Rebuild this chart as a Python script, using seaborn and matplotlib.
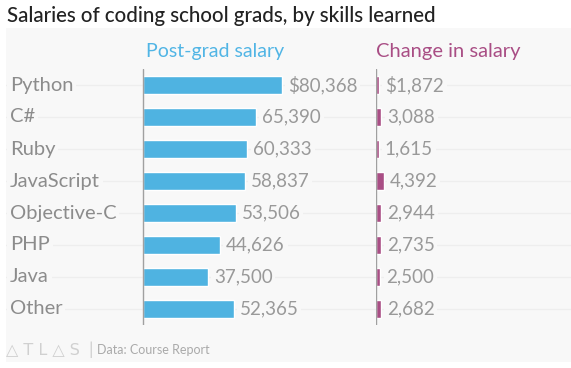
import matplotlib
matplotlib.use("Agg")
import matplotlib.pyplot as plt
import seaborn as sns
import pandas as pd
from matplotlib.patches import Rectangle

# data
langs = ["Python", "C#", "Ruby", "JavaScript", "Objective-C", "PHP", "Java", "Other"]
salary = [80368, 65390, 60333, 58837, 53506, 44626, 37500, 52365]
change = [1872, 3088, 1615, 4392, 2944, 2735, 2500, 2682]

df = pd.DataFrame({"lang": langs, "salary": salary, "change": change})

sns.set_theme(style="white")
plt.rcParams["font.family"] = ["Lato", "DejaVu Sans"]

BG = "#f8f8f8"
BLUE = "#4fb3e1"
PINK = "#a94e85"
GRID = "#eeeeee"
TXT = "#999999"

W, H = 571, 368
fig = plt.figure(figsize=(W / 100, H / 100), dpi=100)
fig.patch.set_facecolor("white")

# light panel behind the chart
fig.add_artist(Rectangle((6 / W, 1 - 362 / H), (W - 6) / W, (362 - 28) / H,
                         transform=fig.transFigure, facecolor=BG, edgecolor="none", zorder=0))

# pixel scale shared by both panels
px = 139 / 80368
top, bot = 69, 325
ax1 = fig.add_axes([6 / W, 1 - bot / H, (376 - 6) / W, (bot - top) / H])
ax2 = fig.add_axes([376 / W, 1 - bot / H, (W - 376) / W, (bot - top) / H])

sns.barplot(data=df, x="salary", y="lang", ax=ax1, color=BLUE, width=0.55,
            saturation=1, zorder=3)
sns.barplot(data=df, x="change", y="lang", ax=ax2, color=PINK, width=0.55,
            saturation=1, zorder=3)

ax1.set_xlim(-(143 - 6) / px, (376 - 143) / px)
ax2.set_xlim(0, (W - 376) / px)

for ax in (ax1, ax2):
    ax.set_facecolor("none")
    ax.set_ylim(len(langs) - 0.5, -0.5)
    ax.set_xlabel("")
    ax.set_ylabel("")
    ax.set_xticks([])
    ax.set_yticks([])
    for s in ax.spines.values():
        s.set_visible(False)
    for i in range(len(langs)):
        ax.axhline(i, color=GRID, lw=1, zorder=1)
    ax.axvline(0, color="#a0a0a0", lw=1, zorder=4)

box = dict(facecolor=BG, edgecolor="none", pad=2)
for i, name in enumerate(langs):
    ax1.text(-(143 - 10) / px, i, name, va="center", ha="left", fontsize=14.5,
             color="#8c8c8c", bbox=box, zorder=2)
    lab = f"${salary[i]:,}" if i == 0 else f"{salary[i]:,}"
    ax1.text(salary[i] + 6 / px, i, lab, va="center", ha="left", fontsize=13.5,
             color=TXT, bbox=box, zorder=2)
    lab2 = f"${change[i]:,}" if i == 0 else f"{change[i]:,}"
    ax2.text(change[i] + 6 / px, i, lab2, va="center", ha="left", fontsize=13.5,
             color=TXT, bbox=box, zorder=2)

fig.text(146 / W, 1 - 52 / H, "Post-grad salary", color="#51b5e5", fontsize=14,
         va="center", ha="left")
fig.text(376 / W, 1 - 52 / H, "Change in salary", color=PINK, fontsize=14.5,
         va="center", ha="left")
fig.text(7 / W, 1 - 16 / H, "Salaries of coding school grads, by skills learned",
         color="#222222", fontsize=14.8, va="center", ha="left", fontweight="medium")

# footer
fig.text(6 / W, 1 - 350 / H, "△ T L △ S", color="#d0d0d0", fontsize=11.5,
         va="center", ha="left", family=["DejaVu Sans"])
fig.text(88 / W, 1 - 350 / H, "|", color="#d0d0d0", fontsize=13, va="center", ha="left")
fig.text(97 / W, 1 - 350 / H, "Data: Course Report", color="#aaaaaa", fontsize=9,
         va="center", ha="left")

fig.savefig("out.png", dpi=100, facecolor="white")
